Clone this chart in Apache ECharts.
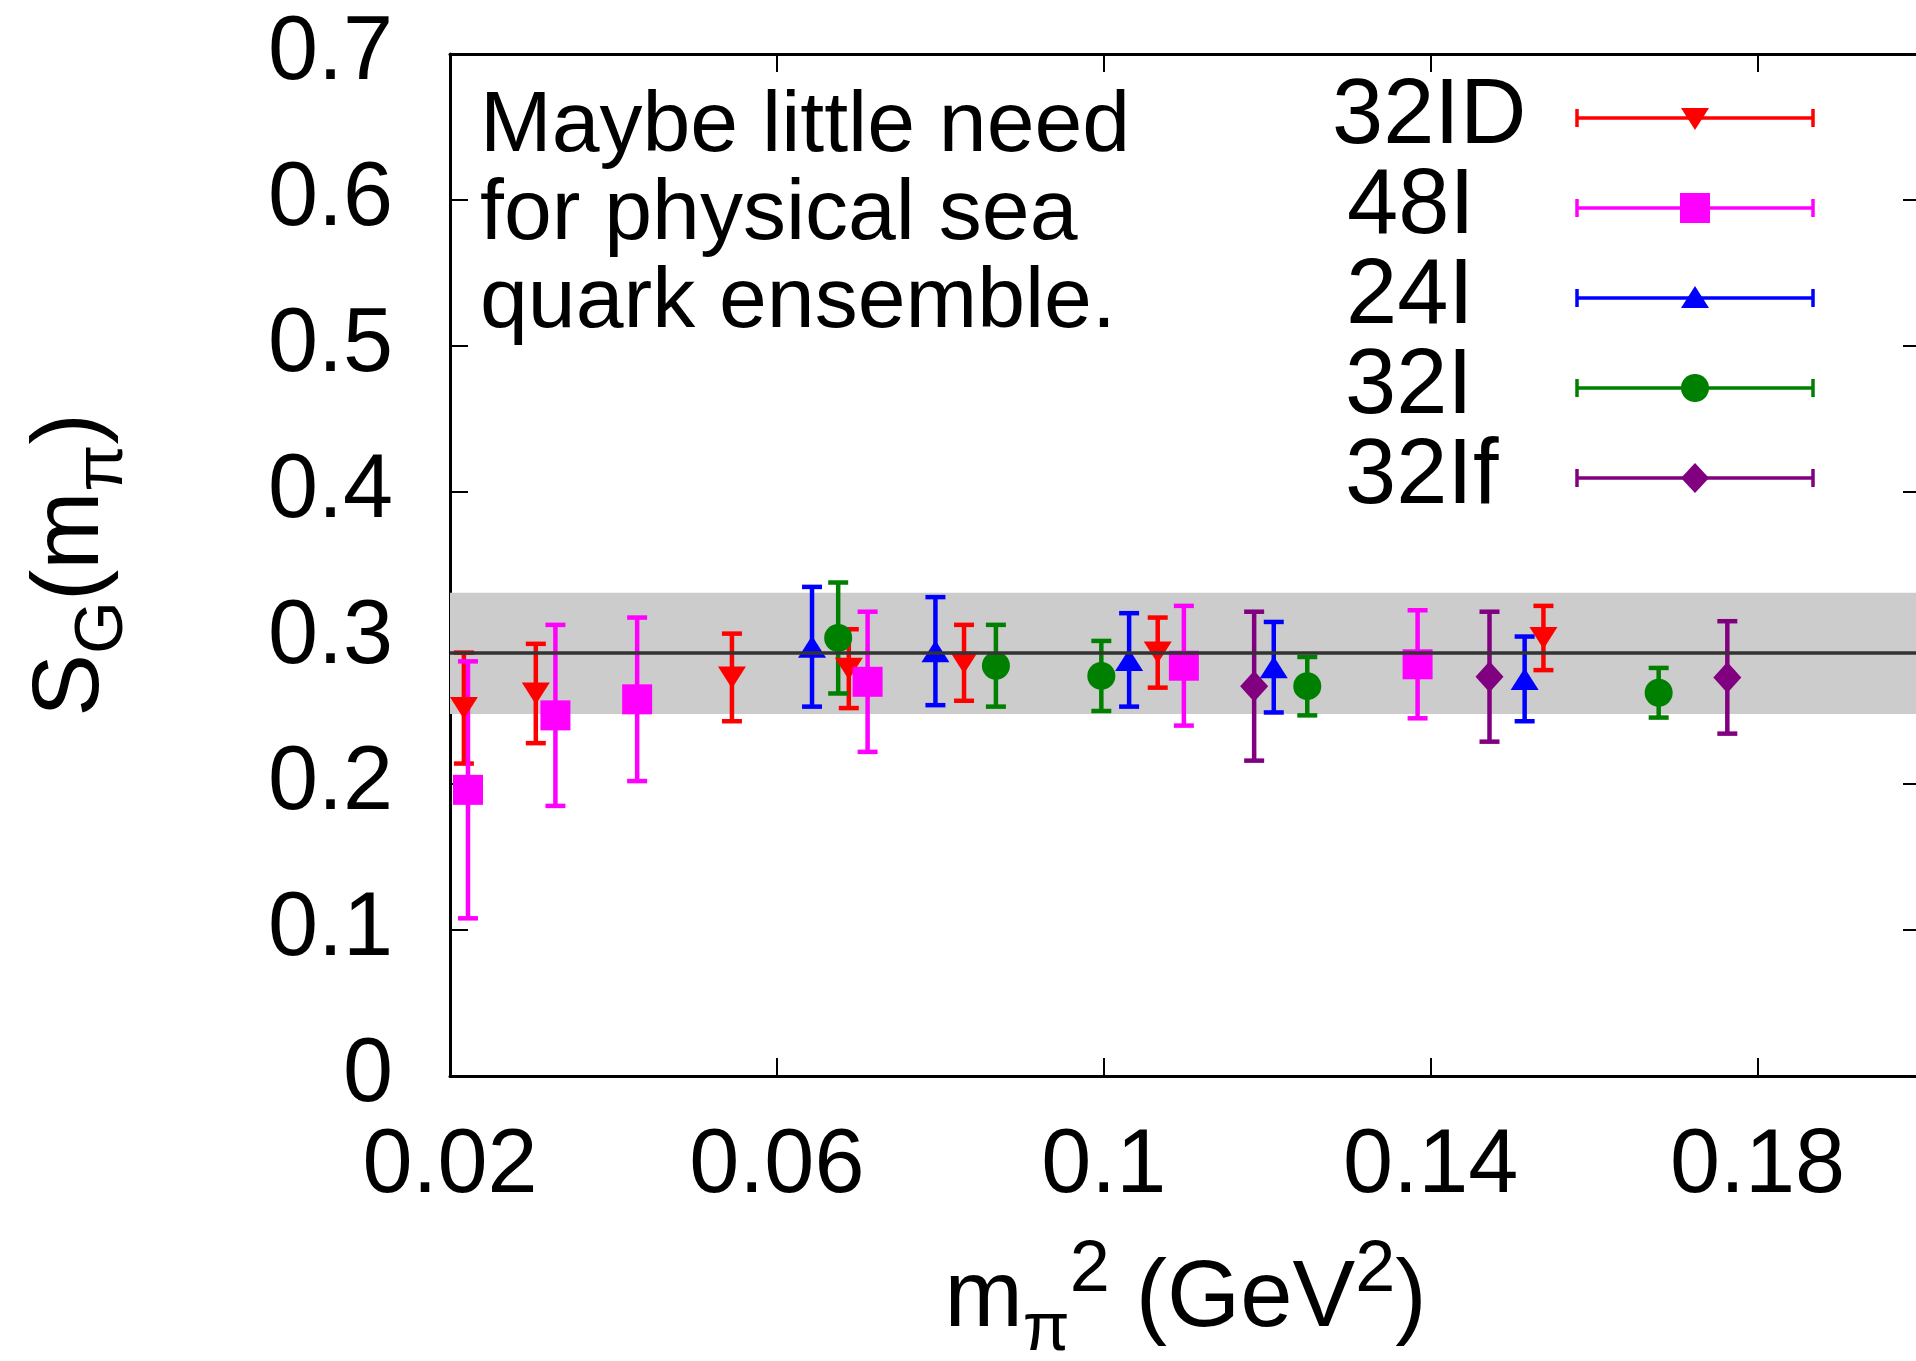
<!DOCTYPE html>
<html>
<head>
<meta charset="utf-8">
<script src="https://cdn.jsdelivr.net/npm/echarts@6/dist/echarts.min.js"></script>
<style>
html, body { margin: 0; padding: 0; background: #fff; }
#chart { width: 1916px; height: 1361px; }
</style>
</head>
<body>
<div id="chart"></div>
<script>
// ---------------- data ----------------
var ensembleNames = ['32ID', '48I', '24I', '32I', '32If'];

var x32ID   = [0.0217, 0.0305, 0.0545, 0.0688, 0.0829, 0.1066, 0.1538];
var y32ID   = [0.252, 0.262, 0.273, 0.279, 0.283, 0.290, 0.300];
var err32ID = [0.038, 0.034, 0.030, 0.027, 0.026, 0.024, 0.022];

var x48I    = [0.0222, 0.0329, 0.0429, 0.0711, 0.1098, 0.1384];
var y48I    = [0.196, 0.247, 0.258, 0.270, 0.281, 0.282];
var err48I  = [0.088, 0.062, 0.056, 0.048, 0.041, 0.037];

var x24I    = [0.0643, 0.0794, 0.1031, 0.1208, 0.1515];
var y24I    = [0.294, 0.291, 0.285, 0.280, 0.272];
var err24I  = [0.041, 0.037, 0.032, 0.031, 0.029];

var x32I    = [0.0675, 0.0868, 0.0997, 0.1249, 0.1679];
var y32I    = [0.300, 0.281, 0.274, 0.267, 0.2625];
var err32I  = [0.038, 0.028, 0.024, 0.020, 0.017];

var x32If   = [0.1184, 0.1472, 0.1763];
var y32If   = [0.267, 0.2735, 0.273];
var err32If = [0.051, 0.0445, 0.0385];

var fitValue = 0.290;
var bandLow  = 0.248;
var bandHigh = 0.331;

var xTickLabels = ['0.02', '0.06', '0.1', '0.14', '0.18'];
var yTickLabels = ['0', '0.1', '0.2', '0.3', '0.4', '0.5', '0.6', '0.7'];

var annotationText = 'Maybe little need\nfor physical sea\nquark ensemble.';

// ---------------- styling ----------------
var FONT = '"Liberation Sans", Arial, Helvetica, sans-serif';
var colors = ['#ff0000', '#ff00ff', '#0000ff', '#008000', '#800080'];
var symbols = [
  { symbol: 'triangle', size: [28, 22], rotate: 180 },
  { symbol: 'rect', size: [30, 30], rotate: 0 },
  { symbol: 'triangle', size: [28, 22], rotate: 0 },
  { symbol: 'circle', size: 28, rotate: 0 },
  { symbol: 'diamond', size: [28, 31], rotate: 0 }
];
var sets = [
  [x32ID, y32ID, err32ID],
  [x48I, y48I, err48I],
  [x24I, y24I, err24I],
  [x32I, y32I, err32I],
  [x32If, y32If, err32If]
];

function labelFrom(list) {
  return function (v) {
    for (var i = 0; i < list.length; i++) {
      if (Math.abs(parseFloat(list[i]) - v) < 1e-9) return list[i];
    }
    return '';
  };
}

function errorBarSeries(name, xs, ys, es, color) {
  return {
    type: 'custom',
    name: name + ' err',
    silent: true,
    xAxisIndex: 0,
    yAxisIndex: 0,
    encode: { x: 0, y: [1, 2] },
    data: xs.map(function (x, i) { return [x, ys[i] - es[i], ys[i] + es[i]]; }),
    renderItem: function (params, api) {
      var lo = api.coord([api.value(0), api.value(1)]);
      var hi = api.coord([api.value(0), api.value(2)]);
      var cw = 10;
      var st = { stroke: color, lineWidth: 4.5 };
      return {
        type: 'group',
        children: [
          { type: 'line', shape: { x1: lo[0], y1: lo[1], x2: hi[0], y2: hi[1] }, style: st },
          { type: 'line', shape: { x1: lo[0] - cw, y1: lo[1], x2: lo[0] + cw, y2: lo[1] }, style: st },
          { type: 'line', shape: { x1: hi[0] - cw, y1: hi[1], x2: hi[0] + cw, y2: hi[1] }, style: st }
        ]
      };
    }
  };
}

var series = [];
sets.forEach(function (s, k) {
  series.push(errorBarSeries(ensembleNames[k], s[0], s[1], s[2], colors[k]));
  var sc = {
    type: 'scatter',
    name: ensembleNames[k],
    xAxisIndex: 0,
    yAxisIndex: 0,
    symbol: symbols[k].symbol,
    symbolSize: symbols[k].size,
    symbolRotate: symbols[k].rotate,
    itemStyle: { color: colors[k], opacity: 1 },
    silent: true,
    data: s[0].map(function (x, i) { return [x, s[1][i]]; })
  };
  if (k === 0) {
    sc.markArea = {
      silent: true,
      itemStyle: { color: '#cccccc' },
      data: [[{ yAxis: bandLow }, { yAxis: bandHigh }]]
    };
    sc.markLine = {
      silent: true,
      symbol: 'none',
      label: { show: false },
      lineStyle: { color: '#333333', width: 3.5, type: 'solid' },
      data: [{ yAxis: fitValue }]
    };
  }
  series.push(sc);
});

// ---------------- legend (drawn as graphic, gnuplot style) ----------------
var legendRowTop = 118, legendRowStep = 90;
var legendTextX = [1332, 1347, 1346, 1345, 1345];
var sampleX1 = 1577, sampleX2 = 1813, sampleMid = 1695;
var graphics = [];
ensembleNames.forEach(function (nm, k) {
  var y = legendRowTop + k * legendRowStep;
  var c = colors[k];
  var st = { stroke: c, lineWidth: 3.5 };
  var marker;
  if (k === 0) marker = { type: 'polygon', shape: { points: [[sampleMid - 14, y - 10], [sampleMid + 14, y - 10], [sampleMid, y + 12]] }, style: { fill: c } };
  else if (k === 1) marker = { type: 'rect', shape: { x: sampleMid - 15, y: y - 15, width: 30, height: 30 }, style: { fill: c } };
  else if (k === 2) marker = { type: 'polygon', shape: { points: [[sampleMid, y - 12], [sampleMid + 14, y + 10], [sampleMid - 14, y + 10]] }, style: { fill: c } };
  else if (k === 3) marker = { type: 'circle', shape: { cx: sampleMid, cy: y, r: 14 }, style: { fill: c } };
  else marker = { type: 'polygon', shape: { points: [[sampleMid, y - 15], [sampleMid + 14, y], [sampleMid, y + 15], [sampleMid - 14, y]] }, style: { fill: c } };
  graphics.push({
    type: 'group',
    silent: true,
    children: [
      { type: 'text', x: legendTextX[k], y: y, style: { text: nm, fill: '#000', font: '92px ' + FONT, align: 'left', verticalAlign: 'middle' } },
      { type: 'line', shape: { x1: sampleX1, y1: y, x2: sampleX2, y2: y }, style: st },
      { type: 'line', shape: { x1: sampleX1, y1: y - 9, x2: sampleX1, y2: y + 9 }, style: st },
      { type: 'line', shape: { x1: sampleX2, y1: y - 9, x2: sampleX2, y2: y + 9 }, style: st },
      marker
    ]
  });
});
graphics.push({
  type: 'text',
  left: 480,
  top: 83,
  silent: true,
  style: { text: annotationText, fill: '#000', font: '86px ' + FONT, lineHeight: 88 }
});

// ---------------- axes ----------------
var axisLineStyle = { color: '#000', width: 3 };
var tickStyle = { color: '#000', width: 2 };

var option = {
  animation: false,
  backgroundColor: '#fff',
  textStyle: { fontFamily: FONT },
  grid: { left: 450, top: 54, right: -5, bottom: 285, containLabel: false, outerBoundsMode: 'none' },
  xAxis: [
    {
      type: 'value', position: 'bottom', min: 0.02, max: 0.2, interval: 0.04,
      axisLine: { show: true, onZero: false, lineStyle: axisLineStyle },
      axisTick: { show: true, inside: true, length: 18, lineStyle: tickStyle },
      axisLabel: { show: true, margin: 46, fontSize: 90, color: '#000', fontFamily: FONT, showMaxLabel: false, formatter: labelFrom(xTickLabels) },
      splitLine: { show: false },
      name: '{b|m}{s|π}{p|2}{b| (GeV}{p|2}{b|)}',
      nameLocation: 'middle',
      nameGap: 159,
      nameTextStyle: {
        color: '#000',
        fontFamily: FONT,
        rich: {
          b: { fontSize: 94, lineHeight: 130, fontFamily: FONT, color: '#000' },
          s: { fontSize: 68, lineHeight: 64, verticalAlign: 'bottom', fontFamily: FONT, color: '#000' },
          p: { fontSize: 72, lineHeight: 57, verticalAlign: 'top', fontFamily: FONT, color: '#000' }
        }
      }
    },
    {
      type: 'value', position: 'top', min: 0.02, max: 0.2, interval: 0.04,
      axisLine: { show: true, onZero: false, lineStyle: axisLineStyle },
      axisTick: { show: true, inside: true, length: 18, lineStyle: tickStyle },
      axisLabel: { show: false },
      splitLine: { show: false }
    }
  ],
  yAxis: [
    {
      type: 'value', position: 'left', min: 0, max: 0.7, interval: 0.1,
      axisLine: { show: true, onZero: false, lineStyle: axisLineStyle },
      axisTick: { show: true, inside: true, length: 18, lineStyle: tickStyle },
      axisLabel: { show: true, margin: 57, fontSize: 90, color: '#000', fontFamily: FONT, formatter: labelFrom(yTickLabels) },
      splitLine: { show: false },
      name: '{b|S}{s|G}{b|(m}{s|π}{b|)}',
      nameLocation: 'middle',
      nameGap: 313,
      nameTextStyle: {
        color: '#000',
        fontFamily: FONT,
        rich: {
          b: { fontSize: 94, lineHeight: 130, fontFamily: FONT, color: '#000' },
          s: { fontSize: 68, lineHeight: 64, verticalAlign: 'bottom', fontFamily: FONT, color: '#000' }
        }
      }
    },
    {
      type: 'value', position: 'right', min: 0, max: 0.7, interval: 0.1,
      axisLine: { show: true, onZero: false, lineStyle: axisLineStyle },
      axisTick: { show: true, inside: true, length: 18, lineStyle: tickStyle },
      axisLabel: { show: false },
      splitLine: { show: false }
    }
  ],
  graphic: graphics,
  series: series
};

var chart = echarts.init(document.getElementById('chart'), null, { renderer: 'canvas' });
chart.setOption(option);
</script>
</body>
</html>
